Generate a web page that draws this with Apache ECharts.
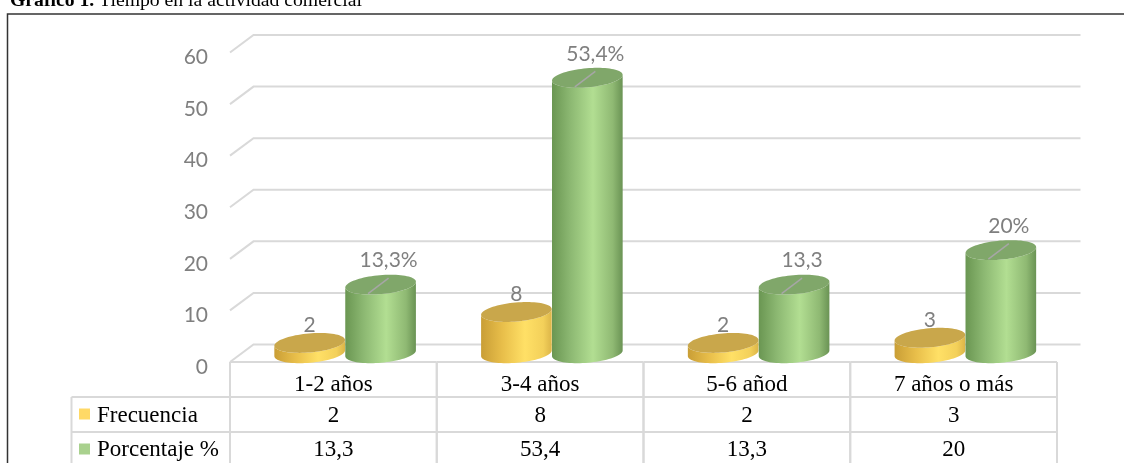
<!DOCTYPE html>
<html><head><meta charset="utf-8">
<script src="https://cdn.jsdelivr.net/npm/echarts@6/dist/echarts.min.js"></script>
<style>html,body{margin:0;padding:0;background:#fff;overflow:hidden}#c{width:1124px;height:463px}</style>
</head><body><div id="c"></div>
<script>
// ---- data ----
const categories = ['1-2 años', '3-4 años', '5-6 añod', '7 años o más'];
const seriesNames = ['Frecuencia', 'Porcentaje %'];
const frecuencia = [2, 8, 2, 3];
const porcentaje = [13.3, 53.4, 13.3, 20];
const porcentajeLabels = ['13,3%', '53,4%', '13,3', '20%'];
const yTicks = [0, 10, 20, 30, 40, 50, 60];
const titleBold = 'Gráfico 1.';
const titleRest = 'Tiempo en la actividad comercial';

// ---- layout / style ----
const DEPTH_X = 23.5, DEPTH_Y = -17.5;
const BAR_RATIO = 0.343;
const TILT = 5 * Math.PI / 180;
const ELL_B = 9.5;
const ROW_H = 35;
const LEG_LEFT = 71.5;
const GRID_COLOR = '#d9d9d9';
const LABEL_COLOR = '#7f7f7f';
const SERIF = 'Liberation Serif';
const SANS = 'Lato';
const STYLES = [
  { key: '#ffd966', top: '#c9a74b',
    body: [{offset:0,color:'#c99e36'},{offset:0.3,color:'#e8be4a'},{offset:0.62,color:'#ffe066'},{offset:0.88,color:'#f3d05a'},{offset:1,color:'#dcb548'}] },
  { key: '#a9d18e', top: '#80a76a',
    body: [{offset:0,color:'#6a9652'},{offset:0.25,color:'#8bb771'},{offset:0.58,color:'#b2de92'},{offset:0.86,color:'#8fb973'},{offset:1,color:'#6a9354'}] }
];

function ellipsePts(cx, cy, a, b, t0, t1, n) {
  const c = Math.cos(TILT), s = Math.sin(TILT), pts = [];
  for (let k = 0; k <= n; k++) {
    const t = t0 + (t1 - t0) * k / n;
    const ex = a * Math.cos(t), ey = b * Math.sin(t);
    pts.push([cx + ex * c + ey * s, cy - ex * s + ey * c]);
  }
  return pts;
}

function barRender(s) {
  const st = STYLES[s];
  return function (params, api) {
    const i = api.value(0), v = api.value(1);
    const base = api.coord([i, 0]), top = api.coord([i, v]);
    const bw = api.size([1, 0])[0];
    const a = bw * BAR_RATIO / 2;
    const cx = base[0] + DEPTH_X / 2 + (s === 0 ? -a : a);
    const yb = base[1] + DEPTH_Y / 2, yt = top[1] + DEPTH_Y / 2;
    const body = ellipsePts(cx, yb, a, ELL_B, 0, Math.PI, 40).concat(ellipsePts(cx, yt, a, ELL_B, Math.PI, 0, 40));
    const topE = ellipsePts(cx, yt, a, ELL_B, 0, 2 * Math.PI, 80);
    const children = [
      { type: 'polygon', shape: { points: body }, style: { fill: { type: 'linear', x: 0, y: 0, x2: 1, y2: 0, colorStops: st.body } } },
      { type: 'polygon', shape: { points: topE }, style: { fill: st.top } }
    ];
    if (s === 0) {
      children.push({ type: 'text', x: cx, y: yt - 18, z2: 10,
        style: { text: String(v), fill: LABEL_COLOR, fontSize: 21, fontFamily: SANS, align: 'center', verticalAlign: 'middle' } });
    } else {
      children.push({ type: 'line', z2: 10, shape: { x1: cx - 12.5, y1: yt + 9, x2: cx + 8, y2: yt - 6.5 },
        style: { stroke: '#a6a6a6', lineWidth: 1.5 } });
      children.push({ type: 'text', x: cx + 8, y: yt - 24, z2: 10,
        style: { text: porcentajeLabels[i], fill: LABEL_COLOR, fontSize: 21, fontFamily: SANS, align: 'center', verticalAlign: 'middle' } });
    }
    return { type: 'group', children };
  };
}

function gridRender(params, api) {
  const cs = params.coordSys;
  const y = api.coord([0, api.value(1)])[1];
  const x0 = cs.x;
  return { type: 'polyline', shape: { points: [[x0, y], [x0 + DEPTH_X, y + DEPTH_Y], [x0 + cs.width + DEPTH_X, y + DEPTH_Y]] },
    style: { stroke: GRID_COLOR, lineWidth: 2, fill: null } };
}

function fmt(v) { return String(v).replace('.', ','); }

function tableRender(params, api) {
  const cs = params.coordSys;
  const i = api.value(0);
  const c = api.coord([i, 0]);
  const bw = api.size([1, 0])[0];
  const x0 = c[0] - bw / 2, x1 = c[0] + bw / 2;
  const y0 = Math.round(cs.y + cs.height);
  const yEnd = y0 + 3 * ROW_H + 10;
  const ls = { stroke: GRID_COLOR, lineWidth: 2 };
  const ts = { fill: '#000', fontSize: 23, fontFamily: SERIF, align: 'center', verticalAlign: 'middle' };
  const ch = [
    { type: 'line', shape: { x1: x0, y1: y0, x2: x1, y2: y0 }, style: ls },
    { type: 'line', shape: { x1: x0, y1: y0 + ROW_H, x2: x1, y2: y0 + ROW_H }, style: ls },
    { type: 'line', shape: { x1: x0, y1: y0 + 2 * ROW_H, x2: x1, y2: y0 + 2 * ROW_H }, style: ls },
    { type: 'line', shape: { x1: x0, y1: y0, x2: x0, y2: yEnd }, style: ls },
    { type: 'line', shape: { x1: x1, y1: y0, x2: x1, y2: yEnd }, style: ls },
    { type: 'text', x: c[0], y: y0 + 1.5 * ROW_H + 1, style: Object.assign({ text: String(api.value(1)) }, ts) },
    { type: 'text', x: c[0], y: y0 + 2.5 * ROW_H + 0, style: Object.assign({ text: fmt(api.value(2)) }, ts) }
  ];
  if (i === 0) {
    ch.push({ type: 'line', shape: { x1: LEG_LEFT, y1: y0 + ROW_H, x2: x0, y2: y0 + ROW_H }, style: ls });
    ch.push({ type: 'line', shape: { x1: LEG_LEFT, y1: y0 + 2 * ROW_H, x2: x0, y2: y0 + 2 * ROW_H }, style: ls });
    ch.push({ type: 'line', shape: { x1: LEG_LEFT, y1: y0 + ROW_H, x2: LEG_LEFT, y2: yEnd }, style: ls });
    seriesNames.forEach(function (nm, k) {
      const yc = y0 + (1.5 + k) * ROW_H;
      ch.push({ type: 'rect', shape: { x: 79, y: yc - 6, width: 11, height: 11 }, style: { fill: STYLES[k].key } });
      ch.push({ type: 'text', x: 97, y: yc + (k === 0 ? 1 : 0), style: Object.assign({}, ts, { text: nm, align: 'left' }) });
    });
  }
  return { type: 'group', children: ch };
}

const chart = echarts.init(document.getElementById('c'));
chart.setOption({
  animation: false,
  backgroundColor: '#fff',
  grid: { left: 230, right: 67, top: 52.5, bottom: 101, containLabel: false },
  xAxis: { type: 'category', data: categories,
    axisLine: { show: false }, axisTick: { show: false }, splitLine: { show: false },
    axisLabel: { interval: 0, fontFamily: SERIF, fontSize: 23, color: '#000', margin: 11 } },
  yAxis: { type: 'value', min: 0, max: 60, interval: 10,
    axisLine: { show: false }, axisTick: { show: false }, splitLine: { show: false },
    axisLabel: { fontFamily: SANS, fontSize: 21, color: LABEL_COLOR, margin: 22, verticalAlign: 'top', lineHeight: 10 } },
  graphic: [
    { type: 'rect', shape: { x: 7.5, y: 14, width: 1200, height: 500 }, style: { fill: null, stroke: '#333', lineWidth: 1.5 }, z: 100 },
    { type: 'text', x: 10, y: 11, style: { text: '{b|' + titleBold + '}{n| ' + titleRest + '}', verticalAlign: 'bottom',
      rich: { b: { fontFamily: SERIF, fontSize: 19.7, fontWeight: 'bold', fill: '#000' },
              n: { fontFamily: SERIF, fontSize: 19.7, fill: '#000' } } } }
  ],
  series: [
    { type: 'custom', name: 'table', z: 1, silent: true, renderItem: tableRender,
      data: categories.map(function (c, i) { return [i, frecuencia[i], porcentaje[i]]; }), encode: { x: 0, y: -1 } },
    { type: 'custom', name: 'grid', z: 2, silent: true, renderItem: gridRender,
      data: yTicks.map(function (v) { return [0, v]; }), encode: { x: 0, y: 1 } },
    { type: 'custom', name: seriesNames[0], z: 3, renderItem: barRender(0),
      data: frecuencia.map(function (v, i) { return [i, v]; }), encode: { x: 0, y: 1 } },
    { type: 'custom', name: seriesNames[1], z: 4, renderItem: barRender(1),
      data: porcentaje.map(function (v, i) { return [i, v]; }), encode: { x: 0, y: 1 } }
  ]
});
</script></body></html>
